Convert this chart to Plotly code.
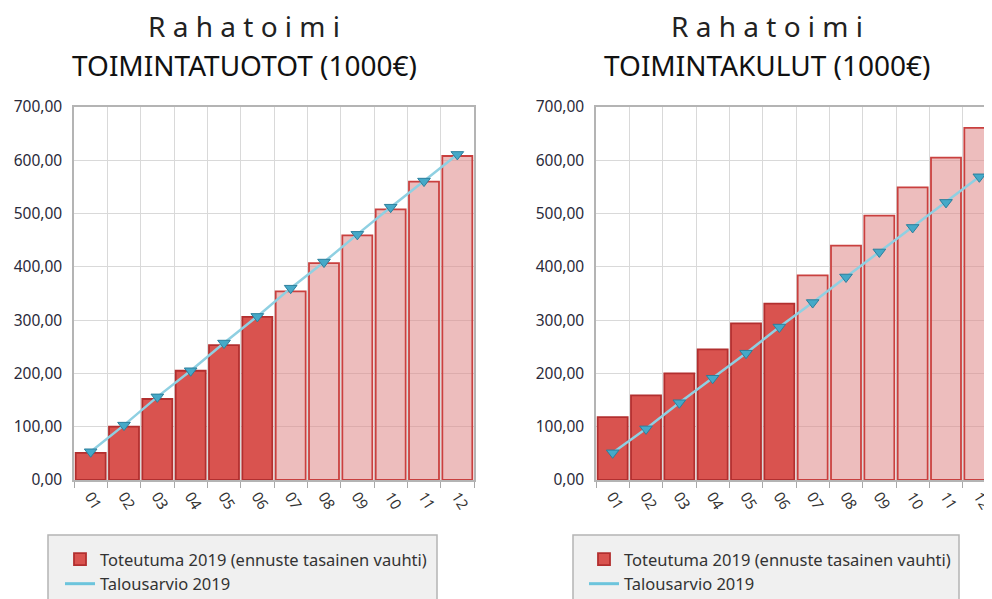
import plotly.graph_objects as go

# ---- data ----
kuukaudet = ["01", "02", "03", "04", "05", "06", "07", "08", "09", "10", "11", "12"]
tyyppi = ["toteuma"] * 6 + ["ennuste"] * 6  # 01-06 actual, 07-12 forecast

tuotot_toteutuma = [51, 100, 152, 205, 253, 306, 354, 407, 459, 508, 560, 608]
tuotot_talousarvio = [53, 103, 156, 205, 257, 307, 360, 409, 461, 512, 561, 611]

kulut_toteutuma = [118, 159, 200, 245, 294, 331, 384, 440, 496, 549, 605, 661]
kulut_talousarvio = [51, 96, 145, 191, 238, 287, 333, 381, 428, 474, 521, 569]

y_ticks = [0, 100, 200, 300, 400, 500, 600, 700]
y_ticktext = ["0,00", "100,00", "200,00", "300,00", "400,00", "500,00", "600,00", "700,00"]

otsikko1 = "R a h a t o i m i"
otsikko_tuotot = "TOIMINTATUOTOT (1000€)"
otsikko_kulut = "TOIMINTAKULUT (1000€)"
nimi_toteutuma = "Toteutuma 2019 (ennuste tasainen vauhti)"
nimi_talousarvio = "Talousarvio 2019"

# ---- styles ----
W, H = 992, 599
OFF = 8  # page body margin
FONT = "Noto Sans"
fill_map = {"toteuma": "#d9534f", "ennuste": "rgba(222,135,135,0.55)"}
edge_map = {"toteuma": "#b22f2f", "ennuste": "#c9403f"}
bar_fill = [fill_map[t] for t in tyyppi]
bar_edge = [edge_map[t] for t in tyyppi]
LINE_C = "#8fd0e2"
MARK_C = "#45a9c8"
MARK_EDGE = "#2c7f9c"


def px_x(p):
    return (p - OFF) / W


def px_y(p):
    return 1 - (p - OFF) / H


fig = go.Figure()

panels = [
    ("x", "y", "legend", tuotot_toteutuma, tuotot_talousarvio),
    ("x2", "y2", "legend2", kulut_toteutuma, kulut_talousarvio),
]
for xa, ya, lg, tot, ta in panels:
    fig.add_trace(go.Bar(
        x=kuukaudet, y=tot, name=nimi_toteutuma, xaxis=xa, yaxis=ya, legend=lg,
        legendgroup=lg + "a",
        marker=dict(color=bar_fill, line=dict(color=bar_edge, width=1.8)),
        showlegend=True,
    ))
    fig.add_trace(go.Scatter(
        x=kuukaudet, y=ta, name=nimi_talousarvio, xaxis=xa, yaxis=ya, legend=lg,
        legendgroup=lg + "b",
        mode="lines+markers",
        line=dict(color=LINE_C, width=2.5),
        marker=dict(symbol="triangle-down", size=11, color=MARK_C,
                    line=dict(color=MARK_EDGE, width=1)),
        showlegend=False,
    ))
    # legend-only entry showing just the line
    fig.add_trace(go.Scatter(
        x=[None], y=[None], name=nimi_talousarvio, xaxis=xa, yaxis=ya, legend=lg,
        legendgroup=lg + "b",
        mode="lines", line=dict(color="#6cc4dc", width=3), showlegend=True,
    ))

y_dom = [px_y(480), px_y(107)]
common_x = dict(
    type="category", tickson="boundaries", ticks="outside", ticklen=6,
    tickcolor="#a8a8a8", showgrid=True, gridcolor="#d9d9d9", gridwidth=1.3,
    showline=True, linecolor="#b4b4b4", linewidth=1.5, mirror=True,
    tickangle=58, tickfont=dict(family=FONT, size=15, color="#333333"),
    automargin=False,
)
common_y = dict(
    range=[0, 700], tickvals=y_ticks, ticktext=y_ticktext,
    showgrid=True, gridcolor="#d9d9d9", gridwidth=1.3,
    showline=True, linecolor="#b4b4b4", linewidth=1.5, mirror=True,
    ticks="", ticklabelstandoff=7, automargin=False,
    tickfont=dict(family=FONT, size=15.5, color="#2a2a3a"), zeroline=False,
)
legend_common = dict(
    xanchor="left", yanchor="top", bgcolor="rgba(0,0,0,0)", borderwidth=0,
    font=dict(family=FONT, size=16.5, color="#333333"),
    itemwidth=30, tracegroupgap=0, traceorder="grouped",
)

# right panel: 12 categories would span 596..996 px; the page cuts it at the edge
cat_w = (996 - 596) / 12
x2_right = -0.5 + ((OFF + W) - 596) / cat_w

fig.update_layout(
    width=W, height=H,
    margin=dict(l=0, r=0, t=0, b=0, autoexpand=False),
    paper_bgcolor="white", plot_bgcolor="white",
    bargap=0.1,
    xaxis=dict(domain=[px_x(74), px_x(474)], range=[-0.5, 11.5], anchor="y", **common_x),
    yaxis=dict(domain=y_dom, anchor="x", **common_y),
    xaxis2=dict(domain=[px_x(596), 1.0], range=[-0.5, x2_right], anchor="y2", **common_x),
    yaxis2=dict(domain=y_dom, anchor="x2", **common_y),
    legend=dict(x=px_x(60), y=px_y(542), **legend_common),
    legend2=dict(x=px_x(584), y=px_y(542), **legend_common),
    showlegend=True,
)

# legend frames (extend below the visible page like in the reference)
for x0, x1 in [(48, 437), (573, 959)]:
    fig.add_shape(type="rect", xref="paper", yref="paper",
                  x0=px_x(x0), x1=px_x(x1), y0=px_y(535), y1=px_y(640),
                  fillcolor="#f0f0f0", line=dict(color="#b4b4b4", width=1.5),
                  layer="below")

# titles
for cx, line2 in [(244, otsikko_tuotot), (767, otsikko_kulut)]:
    fig.add_annotation(x=px_x(cx), y=px_y(26), xref="paper", yref="paper",
                       text=otsikko1, showarrow=False, xanchor="center", yanchor="middle",
                       font=dict(family=FONT, size=28, color="#222222"))
    fig.add_annotation(x=px_x(cx), y=px_y(65), xref="paper", yref="paper",
                       text=line2, showarrow=False, xanchor="center", yanchor="middle",
                       font=dict(family=FONT, size=28, color="#111111"))

fig.write_html("out.html")
